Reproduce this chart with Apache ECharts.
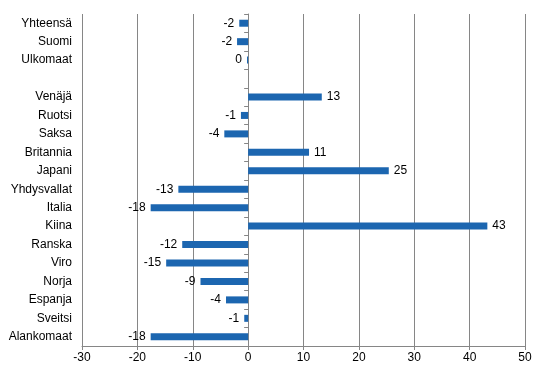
<!DOCTYPE html>
<html>
<head>
<meta charset="utf-8">
<script src="https://cdn.jsdelivr.net/npm/echarts@6/dist/echarts.min.js"></script>
<style>
  html, body { margin: 0; padding: 0; background: #fff; }
  #chart { width: 546px; height: 376px; }
</style>
</head>
<body>
<div id="chart"></div>
<script>
// categories top to bottom, the empty one is a spacer row
const categories = ['Yhteensä', 'Suomi', 'Ulkomaat', '', 'Venäjä', 'Ruotsi', 'Saksa', 'Britannia',
  'Japani', 'Yhdysvallat', 'Italia', 'Kiina', 'Ranska', 'Viro', 'Norja', 'Espanja', 'Sveitsi', 'Alankomaat'];
const values = [-1.6, -2.0, -0.2, null, 13.3, -1.3, -4.3, 11.0,
  25.4, -12.6, -17.6, 43.2, -11.9, -14.8, -8.6, -4.0, -0.7, -17.6];
const xTicks = [-30, -20, -10, 0, 10, 20, 30, 40, 50];

const gray = '#868686';
const gridBox = { left: 82, right: 21, top: 14, bottom: 30 };
const chart = echarts.init(document.getElementById('chart'));

chart.setOption({
  animation: false,
  textStyle: { fontFamily: 'Liberation Sans, Arial, sans-serif' },
  // second grid sits on top of the first, only to carry the axis line at zero
  grid: [Object.assign({}, gridBox), Object.assign({}, gridBox)],
  xAxis: [
    {
      gridIndex: 0,
      type: 'value',
      min: xTicks[0],
      max: xTicks[xTicks.length - 1],
      interval: 10,
      axisLine: { show: true, onZero: false, lineStyle: { color: gray } },
      axisTick: { show: true, length: 4, lineStyle: { color: gray } },
      axisLabel: { color: '#000', fontSize: 12, margin: 6 },
      splitLine: { show: true, lineStyle: { color: gray, width: 1 } }
    },
    {
      gridIndex: 1,
      type: 'value',
      min: xTicks[0],
      max: xTicks[xTicks.length - 1],
      interval: 10,
      show: false
    }
  ],
  yAxis: [
    {
      gridIndex: 0,
      type: 'category',
      data: categories,
      inverse: true,
      position: 'left',
      axisLine: { show: false },
      axisTick: { show: false },
      axisLabel: { color: '#000', fontSize: 12, margin: 10 }
    },
    {
      gridIndex: 1,
      type: 'category',
      data: categories,
      inverse: true,
      position: 'left',
      axisLine: { show: true, onZero: true, lineStyle: { color: gray } },
      axisTick: { show: true, length: 4, lineStyle: { color: gray } },
      axisLabel: { show: false }
    }
  ],
  series: [{
    type: 'bar',
    xAxisIndex: 0,
    yAxisIndex: 0,
    data: values.map(function (v) {
      if (v == null) return null;
      return v < 0 ? { value: v, label: { position: 'left' } } : v;
    }),
    barWidth: 7,
    itemStyle: { color: '#1c66b0' },
    label: {
      show: true,
      color: '#000',
      fontSize: 12,
      distance: 5,
      position: 'right',
      formatter: function (p) {
        if (p.value == null) return '';
        return String(Math.round(p.value)).replace('-0', '0');
      }
    }
  }]
});
</script>
</body>
</html>
